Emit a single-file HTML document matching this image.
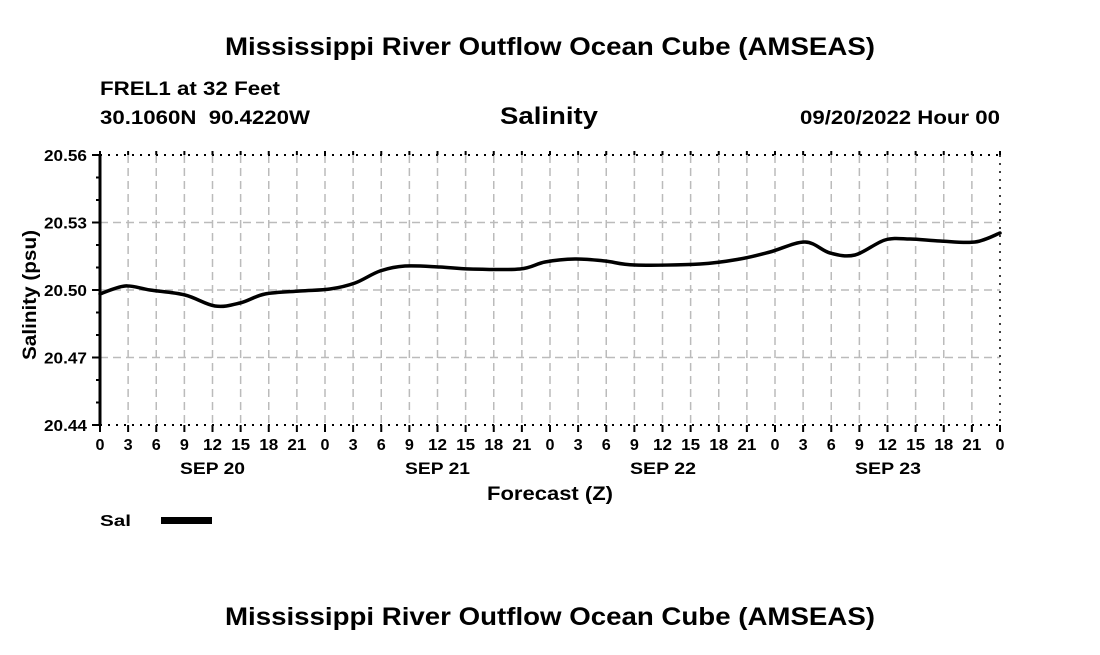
<!DOCTYPE html>
<html><head><meta charset="utf-8"><style>
body{margin:0;background:#fff;width:1100px;height:650px;overflow:hidden}
svg text{font-family:"Liberation Sans",Arial,sans-serif;font-weight:bold;fill:#000}
</style></head><body>
<svg width="1100" height="650" xmlns="http://www.w3.org/2000/svg">
<text x="225" y="55" font-size="25" textLength="650" lengthAdjust="spacingAndGlyphs">Mississippi River Outflow Ocean Cube (AMSEAS)</text>
<text x="100" y="95" font-size="19" textLength="180" lengthAdjust="spacingAndGlyphs">FREL1 at 32 Feet</text>
<text x="100" y="124" font-size="19" textLength="210" lengthAdjust="spacingAndGlyphs" xml:space="preserve">30.1060N  90.4220W</text>
<text x="500" y="124" font-size="24" textLength="98" lengthAdjust="spacingAndGlyphs">Salinity</text>
<text x="800" y="124" font-size="19" textLength="200" lengthAdjust="spacingAndGlyphs">09/20/2022 Hour 00</text>
<g id="grid" stroke="#bbb" stroke-width="1.5" stroke-dasharray="8,5"></g>
<g id="ax"></g>
<path id="curve" fill="none" stroke="#000" stroke-width="3.5" stroke-linejoin="round" stroke-linecap="round"/>
<text x="36" y="295" font-size="19" text-anchor="middle" transform="rotate(-90 36 295)" textLength="130" lengthAdjust="spacingAndGlyphs">Salinity (psu)</text>
<text x="180" y="474" font-size="17" textLength="65" lengthAdjust="spacingAndGlyphs">SEP 20</text>
<text x="405" y="474" font-size="17" textLength="65" lengthAdjust="spacingAndGlyphs">SEP 21</text>
<text x="630" y="474" font-size="17" textLength="66" lengthAdjust="spacingAndGlyphs">SEP 22</text>
<text x="855" y="474" font-size="17" textLength="66" lengthAdjust="spacingAndGlyphs">SEP 23</text>
<text x="487" y="500" font-size="19" textLength="126" lengthAdjust="spacingAndGlyphs">Forecast (Z)</text>
<text x="100" y="526" font-size="16" textLength="31" lengthAdjust="spacingAndGlyphs">Sal</text>
<rect x="161" y="517" width="51" height="7" fill="#000"/>
<text x="225" y="625" font-size="25" textLength="650" lengthAdjust="spacingAndGlyphs">Mississippi River Outflow Ocean Cube (AMSEAS)</text>
</svg>
<script>
var ns="http://www.w3.org/2000/svg";
function el(p,t,a,txt){var e=document.createElementNS(ns,t);for(var k in a)e.setAttribute(k,a[k]);if(txt!=null)e.textContent=txt;p.appendChild(e);return e;}
var g=document.getElementById('grid'),ax=document.getElementById('ax');
var L=100,R=1000,T=155,B=425,dx=(R-L)/32;
var hrs=[0,3,6,9,12,15,18,21];
for(var i=0;i<=32;i++){var x=L+i*dx;
 if(i>0&&i<32)el(g,'line',{x1:x,y1:T,x2:x,y2:B});
 el(ax,'line',{x1:x,y1:B,x2:x,y2:B+7,stroke:'#000','stroke-width':2});
 el(ax,'line',{x1:x,y1:T,x2:x,y2:T-4,stroke:'#000','stroke-width':2});
 var lab=i==32?'0':String(hrs[i%8]);
 el(ax,'text',{x:x,y:450,'font-size':16,'text-anchor':'middle',textLength:lab.length>1?19:9,lengthAdjust:'spacingAndGlyphs'},lab);}
var yl=['20.56','20.53','20.50','20.47','20.44'];
for(var j=0;j<5;j++){var y=T+j*(B-T)/4;
 if(j>0&&j<4)el(g,'line',{x1:L,y1:y,x2:R,y2:y});
 el(ax,'line',{x1:L-8,y1:y,x2:L,y2:y,stroke:'#000','stroke-width':2});
 el(ax,'text',{x:44,y:y+6,'font-size':16,textLength:43,lengthAdjust:'spacingAndGlyphs'},yl[j]);}
for(var j=0;j<=12;j++){var y=T+j*(B-T)/12;el(ax,'line',{x1:L-4,y1:y,x2:L,y2:y,stroke:'#000','stroke-width':2});}
el(ax,'line',{x1:L,y1:T,x2:R,y2:T,stroke:'#000','stroke-width':2,'stroke-dasharray':'2,6'});
el(ax,'line',{x1:L,y1:B,x2:R,y2:B,stroke:'#000','stroke-width':2,'stroke-dasharray':'2,6'});
el(ax,'line',{x1:R,y1:T,x2:R,y2:B,stroke:'#000','stroke-width':1.5,'stroke-dasharray':'2,6'});
el(ax,'line',{x1:L,y1:T,x2:L,y2:B,stroke:'#000','stroke-width':3});
var p=[[100,294],[125,286],[150,290],[185,295],[215,306],[240,303],[265,294],[300,291],[330,289],[355,283],[380,271],[405,266],[440,267],[470,269],[520,269],[545,262],[575,259],[605,261],[635,265],[700,264],[740,259],[770,252],[805,242],[830,253],[855,255],[885,240],[910,239],[940,241],[975,242],[1000,233]];
var d='M'+p[0];
for(var i=0;i<p.length-1;i++){var a=p[Math.max(0,i-1)],b=p[i],c=p[i+1],e=p[Math.min(p.length-1,i+2)];
 d+=' C'+(b[0]+(c[0]-a[0])/6)+','+(b[1]+(c[1]-a[1])/6)+' '+(c[0]-(e[0]-b[0])/6)+','+(c[1]-(e[1]-b[1])/6)+' '+c[0]+','+c[1];}
document.getElementById('curve').setAttribute('d',d);
</script>
</body></html>
